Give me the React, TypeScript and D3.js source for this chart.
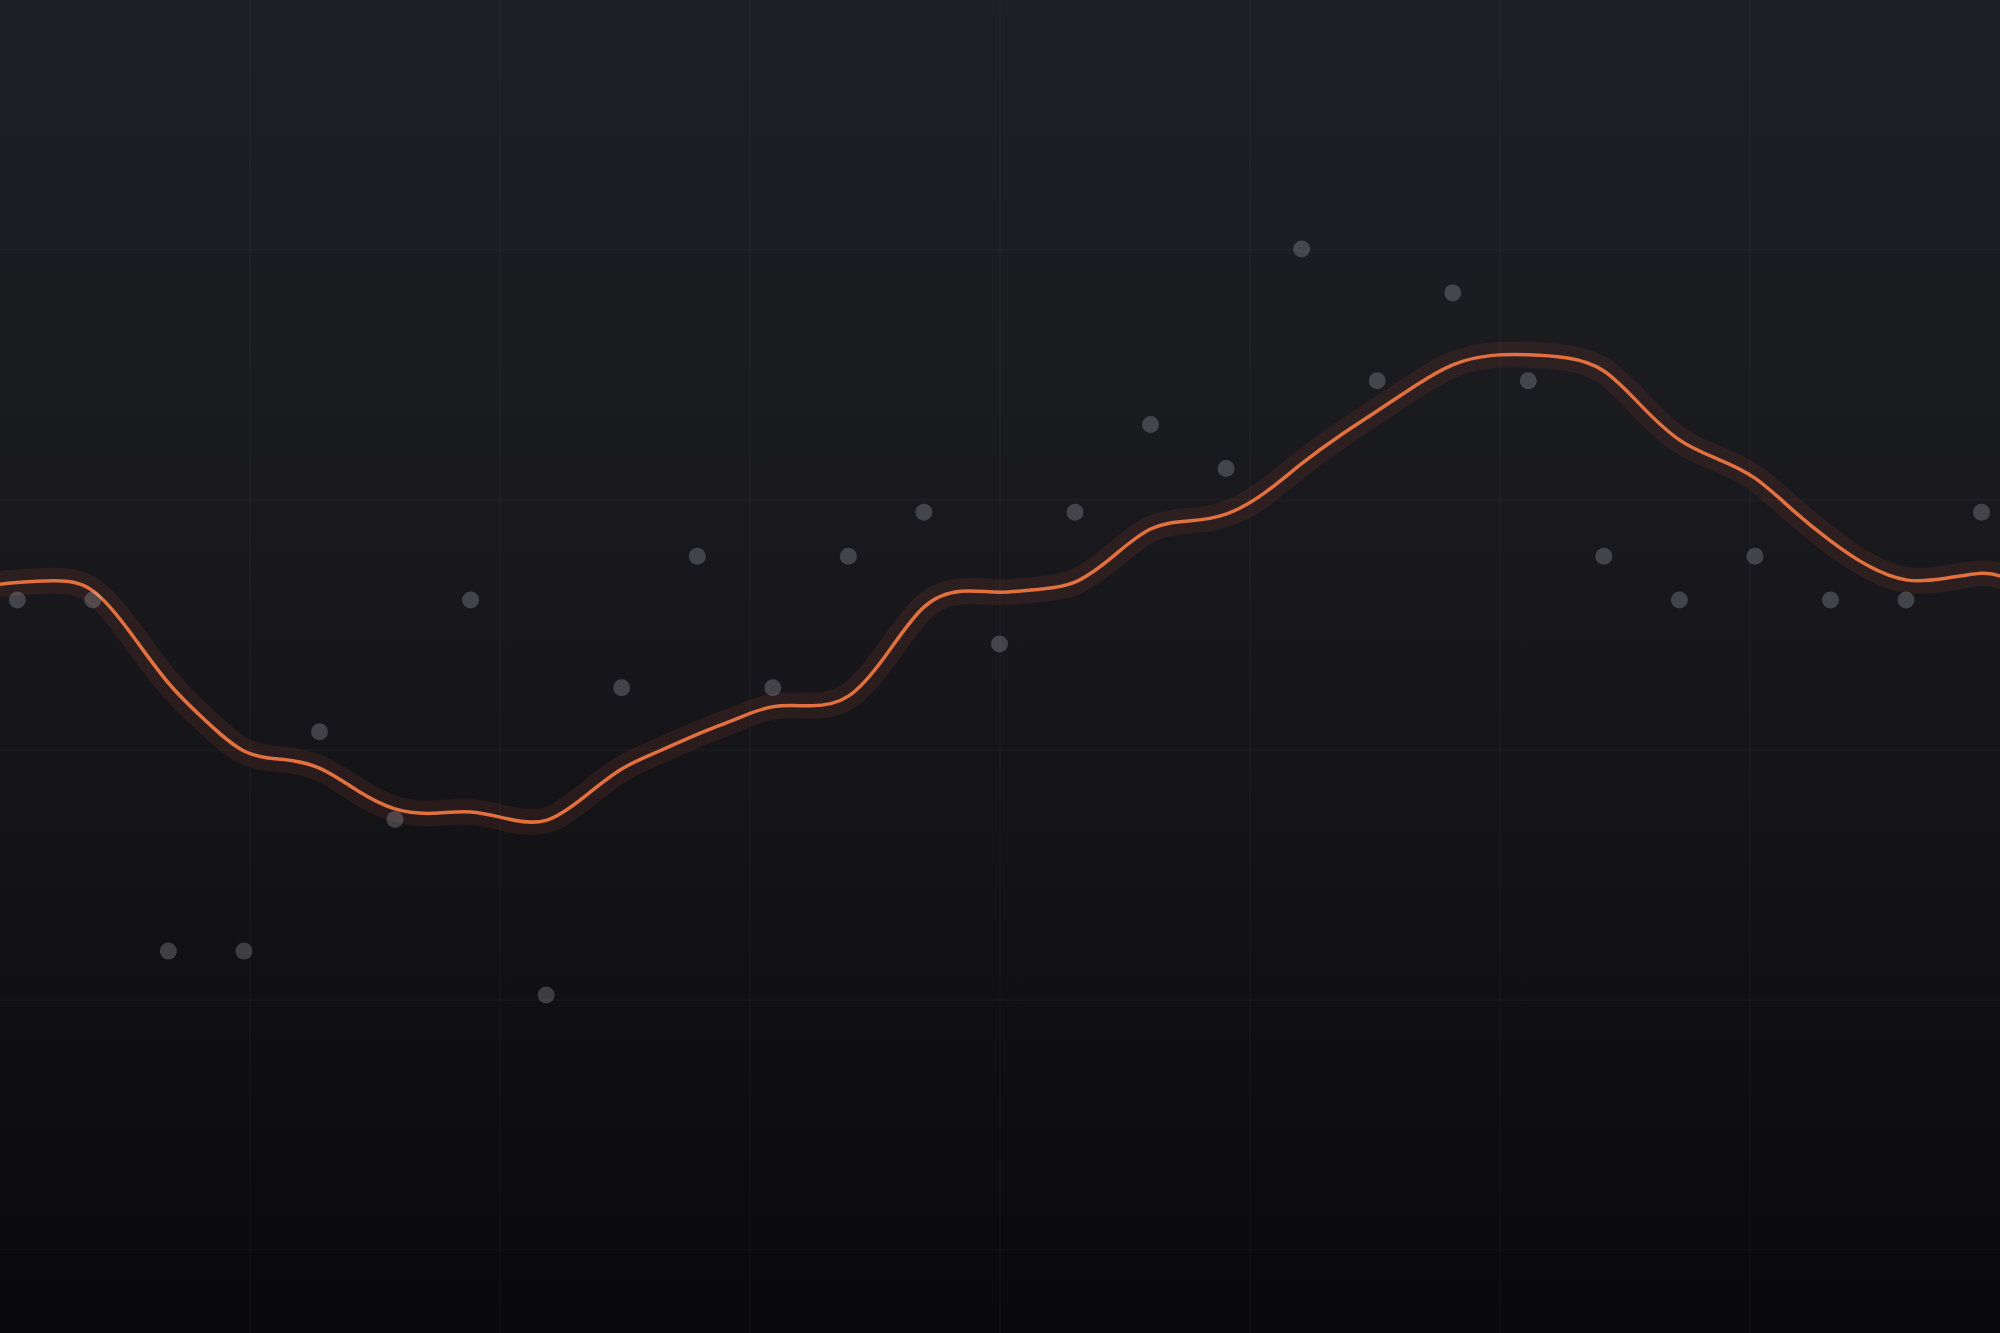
import React from 'react';
import * as d3 from 'd3';

const WIDTH = 2000;
const HEIGHT = 1333;

// Observations (one per period)
const periods = [0, 1, 2, 3, 4, 5, 6, 7, 8, 9, 10, 11, 12, 13, 14, 15, 16, 17, 18, 19, 20, 21, 22, 23, 24, 25, 26];
const observations = [9, 9, 1, 1, 6, 4, 9, 0, 7, 10, 7, 10, 11, 8, 11, 13, 12, 17, 14, 16, 14, 10, 9, 10, 9, 9, 11];

// Smoothed trend at half-period steps
const trendSteps = [
  -0.23, 0, 0.5, 1, 1.5, 2, 2.5, 3, 3.5, 4, 4.5, 5, 5.5, 6, 6.5, 7, 7.5, 8, 8.5, 9, 9.5,
  10, 10.5, 11, 11.5, 12, 12.5, 13, 13.5, 14, 14.5, 15, 15.5, 16, 16.5, 17, 17.5, 18, 18.5,
  19, 19.5, 20, 20.5, 21, 21.5, 22, 22.5, 23, 23.5, 24, 24.5, 25, 25.5, 26, 26.24,
];
const trendValues = [
  9.36, 9.4, 9.44, 9.21, 8.25, 7.11, 6.24, 5.56, 5.37, 5.17, 4.66, 4.24, 4.14, 4.17, 4.01, 3.98, 4.51, 5.15, 5.56, 5.94, 6.28,
  6.57, 6.59, 6.81, 7.75, 8.84, 9.2, 9.18, 9.24, 9.41, 9.99, 10.62, 10.8, 10.96, 11.43, 12.11, 12.74, 13.31, 13.88,
  14.36, 14.57, 14.59, 14.52, 14.22, 13.42, 12.65, 12.22, 11.78, 11.05, 10.35, 9.78, 9.46, 9.49, 9.61, 9.55,
];

const gridX = [250, 500, 750, 1000, 1250, 1500, 1750];
const gridY = [250, 500, 750, 1000, 1250];

export default function App() {
  const x = d3.scaleLinear().domain([0, 26]).range([17.3, 1981.6]);
  const y = d3.scaleLinear().domain([0, 17]).range([995, 249]);

  const trend = trendSteps.map((s, i) => [s, trendValues[i]] as [number, number]);
  const lineGen = d3
    .line<[number, number]>()
    .x((d) => x(d[0]))
    .y((d) => y(d[1]))
    .curve(d3.curveNatural);
  const path = lineGen(trend) || '';

  return (
    <svg
      width={WIDTH}
      height={HEIGHT}
      viewBox={`0 0 ${WIDTH} ${HEIGHT}`}
      style={{ position: 'absolute', left: 0, top: 0, display: 'block' }}
    >
      <defs>
        <linearGradient id="bg" x1="0" y1="0" x2="0" y2="1">
          <stop offset="0" stopColor="#1e1f24" />
          <stop offset="0.5" stopColor="#17171b" />
          <stop offset="1" stopColor="#09090b" />
        </linearGradient>
      </defs>
      <rect x={0} y={0} width={WIDTH} height={HEIGHT} fill="url(#bg)" />
      <g stroke="rgba(255,255,255,0.035)" strokeWidth={1.5}>
        {gridX.map((gx) => (
          <line key={`gx${gx}`} x1={gx} x2={gx} y1={0} y2={HEIGHT} />
        ))}
        {gridY.map((gy) => (
          <line key={`gy${gy}`} x1={0} x2={WIDTH} y1={gy} y2={gy} />
        ))}
      </g>
      <path d={path} fill="none" stroke="#c85038" strokeOpacity={0.12} strokeWidth={26} strokeLinecap="round" strokeLinejoin="round" />
      <path d={path} fill="none" stroke="#e2713f" strokeWidth={3.5} strokeLinecap="round" strokeLinejoin="round" />
      <g>
        {periods.map((p, i) => (
          <circle key={p} cx={x(p)} cy={y(observations[i])} r={8.5} fill="rgba(232,232,245,0.21)" />
        ))}
      </g>
    </svg>
  );
}
